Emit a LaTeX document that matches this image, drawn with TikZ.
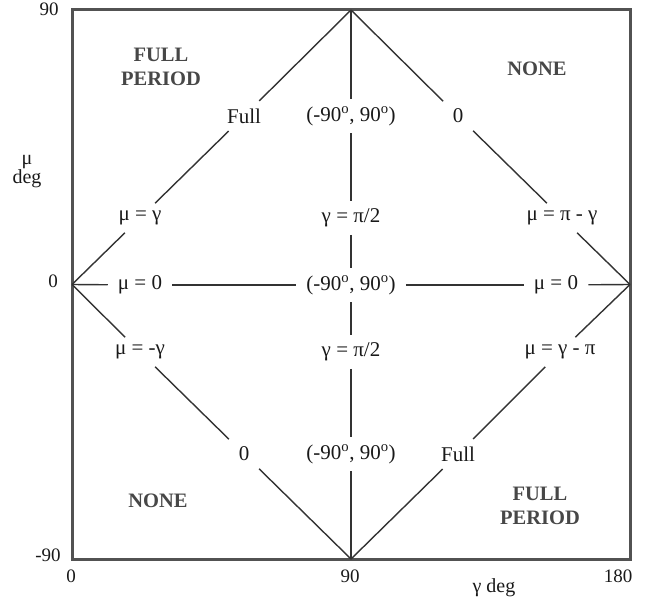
\documentclass[tikz,border=0pt]{standalone}
\usepackage{fontspec}
\setmainfont{Liberation Serif}
\begin{document}
\begin{tikzpicture}[x=1pt,y=-1pt,
  lbl/.style={font=\fontsize{21}{23}\selectfont, text=black!90, inner xsep=10pt, inner ysep=7.5pt},
  region/.style={font=\bfseries\fontsize{20.5}{24}\selectfont, text=black!72, align=center},
  axis/.style={font=\fontsize{19}{21}\selectfont, text=black!90, inner sep=0pt},
  ln/.style={draw=black!80, line width=1.4pt},
  frame/.style={draw=black!68, line width=3pt}]
\useasboundingbox (0,0) rectangle (660,602);
% frame
\draw[frame] (72,10) rectangle (630,559);
\coordinate (L) at (72,284.5);
\coordinate (R) at (630,284.5);
\coordinate (T) at (351,10);
\coordinate (B) at (351,559);
% labels on the lines
\node[lbl] (a1) at (140,218) {μ = γ};
\node[lbl] (a2) at (244,116) {Full};
\node[lbl] (b2) at (458,116) {0};
\node[lbl] (b1) at (562,218) {μ = π - γ};
\node[lbl] (c1) at (140,352) {μ = -γ};
\node[lbl] (c2) at (244,454) {0};
\node[lbl] (d2) at (458,454) {Full};
\node[lbl] (d1) at (560,352) {μ = γ - π};
\node[lbl] (v1) at (351,116) {(-90\textsuperscript{o}, 90\textsuperscript{o})};
\node[lbl] (v2) at (351,218) {γ = π/2};
\node[lbl] (v3) at (351,285) {(-90\textsuperscript{o}, 90\textsuperscript{o})};
\node[lbl] (v4) at (351,352) {γ = π/2};
\node[lbl] (v5) at (351,454) {(-90\textsuperscript{o}, 90\textsuperscript{o})};
\node[lbl] (h1) at (140,285) {μ = 0};
\node[lbl] (h2) at (556,285) {μ = 0};
% connectors
\draw[ln] (L) -- (a1); \draw[ln] (a1) -- (a2); \draw[ln] (a2) -- (T);
\draw[ln] (T) -- (b2); \draw[ln] (b2) -- (b1); \draw[ln] (b1) -- (R);
\draw[ln] (L) -- (c1); \draw[ln] (c1) -- (c2); \draw[ln] (c2) -- (B);
\draw[ln] (B) -- (d2); \draw[ln] (d2) -- (d1); \draw[ln] (d1) -- (R);
\draw[ln] (T) -- (v1); \draw[ln] (v1) -- (v2); \draw[ln] (v2) -- (v3);
\draw[ln] (v3) -- (v4); \draw[ln] (v4) -- (v5); \draw[ln] (v5) -- (B);
\draw[ln] (L) -- (h1); \draw[ln] (h1) -- (v3); \draw[ln] (v3) -- (h2); \draw[ln] (h2) -- (R);
% region labels
\node[region] (fp1) at (161,67) {FULL\\PERIOD};
\node[region] (n1) at (537,69) {NONE};
\node[region] (n2) at (158,501) {NONE};
\node[region] (fp2) at (540,506) {FULL\\PERIOD};
% axis labels
\node[axis] (y90) at (49,9) {90};
\node[axis] (y0) at (53,281) {0};
\node[axis] (ym90) at (48,555) {-90};
\node[axis, align=center, font=\fontsize{20}{19}\selectfont] (ylab) at (27,172) {μ\\deg};
\node[axis] (x0) at (71,576) {0};
\node[axis] (x90) at (350,576) {90};
\node[axis] (x180) at (618,576) {180};
\node[axis, font=\fontsize{20}{21}\selectfont] (xlab) at (494,588) {γ deg};
\end{tikzpicture}
\end{document}
